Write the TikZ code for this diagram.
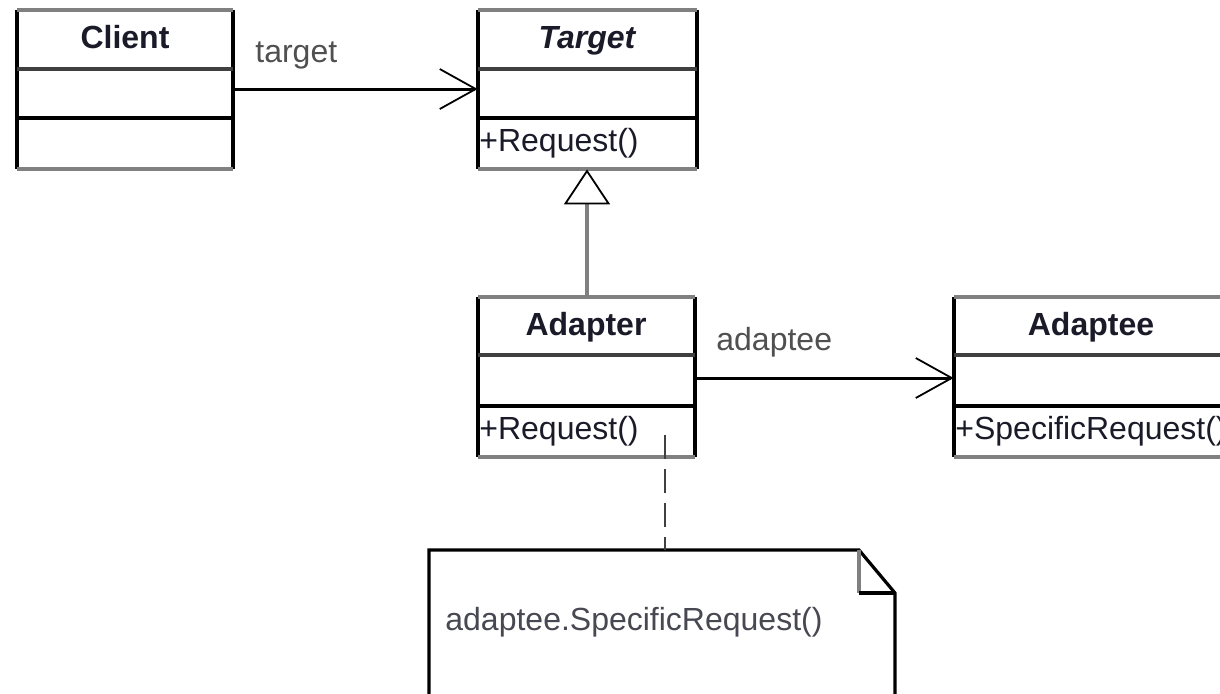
\documentclass[tikz,border=0pt]{standalone}
\usepackage{fontspec}
\setmainfont{Liberation Sans}
\usetikzlibrary{arrows.meta,fit}
\definecolor{edgegray}{HTML}{808080}
\definecolor{divgray}{HTML}{404040}
\definecolor{txtdark}{HTML}{1A1A28}
\definecolor{lbl}{HTML}{505050}
\tikzset{
  boxarea/.style={draw=none, inner sep=0pt},
  sideline/.style={draw=black, line width=1.6pt},
  capline/.style={draw=edgegray, line width=2.4pt},
  headline/.style={draw=divgray, line width=1.9pt},
  opsline/.style={draw=black, line width=1.6pt},
  clsname/.style={font=\fontsize{16}{19}\selectfont\bfseries, text=txtdark, inner sep=0pt, anchor=base},
  member/.style={font=\fontsize{16}{19}\selectfont, text=txtdark, inner sep=0pt, anchor=base west},
  rolelbl/.style={font=\fontsize{16}{19}\selectfont, text=lbl, inner sep=0pt, anchor=base west},
  assoc/.style={draw=black, line width=1.5pt, -{Straight Barb[length=18pt,width=20pt,line width=0.9pt]}},
  generalize/.style={draw=edgegray, line width=2.2pt, -{Triangle[length=17.5pt,width=23pt,line width=0.9pt,color=black,fill=white]}},
  notelink/.style={draw=divgray, line width=1.3pt, dash pattern=on 12pt off 5pt},
  noteline/.style={draw=black, line width=1.6pt},
}
\newcommand\UMLBox[7]{%
  \node[boxarea, fit={(#2,#3) (#4,#5)}] (#1) {};
  \draw[sideline] (#2,#3) -- (#2,#5) (#4,#3) -- (#4,#5);
  \draw[headline] (#2,#6) -- (#4,#6);
  \draw[opsline] (#2,#7) -- (#4,#7);
  \draw[capline] (#2,#3) -- (#4,#3) (#2,#5) -- (#4,#5);
}
\begin{document}
\begin{tikzpicture}[x=0.5pt,y=-0.5pt]
\clip (0,0) rectangle (1220,693);
\fill[white] (0,0) rectangle (1220,693);

\UMLBox{client}{17}{10}{233}{169}{69}{118}
\UMLBox{target}{478}{10}{697}{169}{69}{118}
\UMLBox{adapter}{478}{297}{695}{457}{355}{406}
\UMLBox{adaptee}{954}{297}{1228}{457}{355}{406}

\node[clsname] (clientname) at (125,48) {Client};
\node[clsname] (targetname) at (587,48) {\itshape Target};
\node[member] (targetop) at (479,151) {+Request()};
\node[clsname] (adaptername) at (586,335) {Adapter};
\node[member] (adapterop) at (479,439) {+Request()};
\node[clsname] (adapteename) at (1091,335) {Adaptee};
\node[member] (adapteeop) at (955,439) {+SpecificRequest()};

% note
\node[boxarea, fit={(429,550) (895,720)}] (note) {};
\draw[noteline, line join=miter] (859,550) -- (429,550) -- (429,720) -- (895,720) -- (895,593) -- cycle;
\draw[draw=edgegray, line width=1.6pt] (859,550) -- (859,593);
\draw[noteline] (859,593) -- (895,593);
\node[rolelbl, text=txtdark!80] (notetext) at (445,630) {adaptee.SpecificRequest()};

% connectors
\draw[assoc] (client.east |- 0,89) -- (target.west |- 0,89);
\node[rolelbl] (targetlbl) at (255,62) {target};
\draw[assoc] (adapter.east |- 0,378) -- (adaptee.west |- 0,378);
\node[rolelbl] (adapteelbl) at (716,350) {adaptee};
\draw[generalize] (adapter.north -| 587,0) -- (target.south -| 587,0);
\coordinate (linkstart) at (665,435);
\draw[notelink] (linkstart) -- (note.north -| linkstart);
\end{tikzpicture}
\end{document}
